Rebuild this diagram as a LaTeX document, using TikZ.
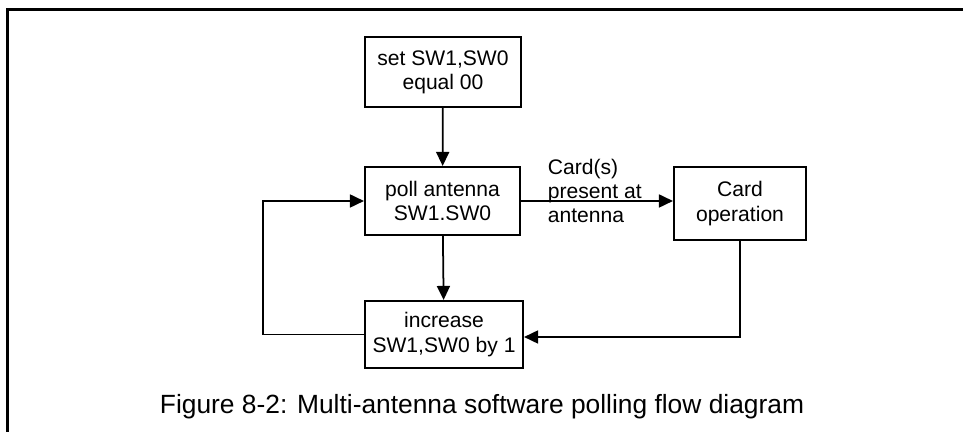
\documentclass[tikz,border=0pt]{standalone}
\usepackage{fontspec}
\setmainfont{Liberation Sans}
\usetikzlibrary{arrows.meta}

\begin{document}
\begin{tikzpicture}
    \tikzstyle{every path}=[line width=1pt]
    \tikzstyle{block}=[draw, line width=1.2pt, align=center, inner sep=0pt,
        font=\fontsize{12}{13.8}\selectfont]
    \tikzstyle{flow}=[-{Triangle[length=0.28cm,width=0.26cm]}]
    \tikzstyle{frameline}=[line width=1.4pt]

    \useasboundingbox (0,0) rectangle (19.26,8.64);

    % frame
    \coordinate (ftl) at (0.15,8.45);
    \coordinate (ftr) at (19.26,8.45);
    \coordinate (fbl) at (0.15,0);
    \draw[frameline] (ftr) -- (ftl) -- (fbl);

    % blocks
    \node[block, minimum width=3.12cm, minimum height=1.40cm] (setsw) at (8.86,7.20)
        {set SW1,SW0\\equal 00};
    \node[block, minimum width=3.10cm, minimum height=1.36cm] (poll) at (8.85,4.62)
        {poll antenna\\SW1.SW0};
    \node[block, minimum width=3.16cm, minimum height=1.34cm] (incr) at (8.88,1.95)
        {increase\\SW1,SW0 by 1};
    \node[block, minimum width=2.64cm, minimum height=1.46cm] (cardop) at (14.80,4.57)
        {Card\\operation};

    % label
    \node[anchor=west, align=left, inner sep=0pt,
        font=\fontsize{12}{13.8}\selectfont] (present) at (10.94,4.82)
        {Card(s)\\present at\\antenna};

    % caption
    \node[font=\fontsize{15}{18}\selectfont] (caption) at (9.64,0.50)
        {Figure 8-2: Multi-antenna software polling flow diagram};

    % corners of the loops
    \coordinate (loopleft) at (5.26,1.95);
    \coordinate (loopright) at (14.80,1.90);

    % connectors
    \draw[flow] (setsw) -- (poll);
    \draw[flow] (poll) -- (incr);
    \draw[flow] (poll.east) -- (poll.east -| cardop.west);
    \draw[flow] (incr.west) -- (loopleft) |- (poll.west);
    \draw[flow] (cardop.south) -- (loopright) -- (loopright -| incr.east);

\end{tikzpicture}
\end{document}
